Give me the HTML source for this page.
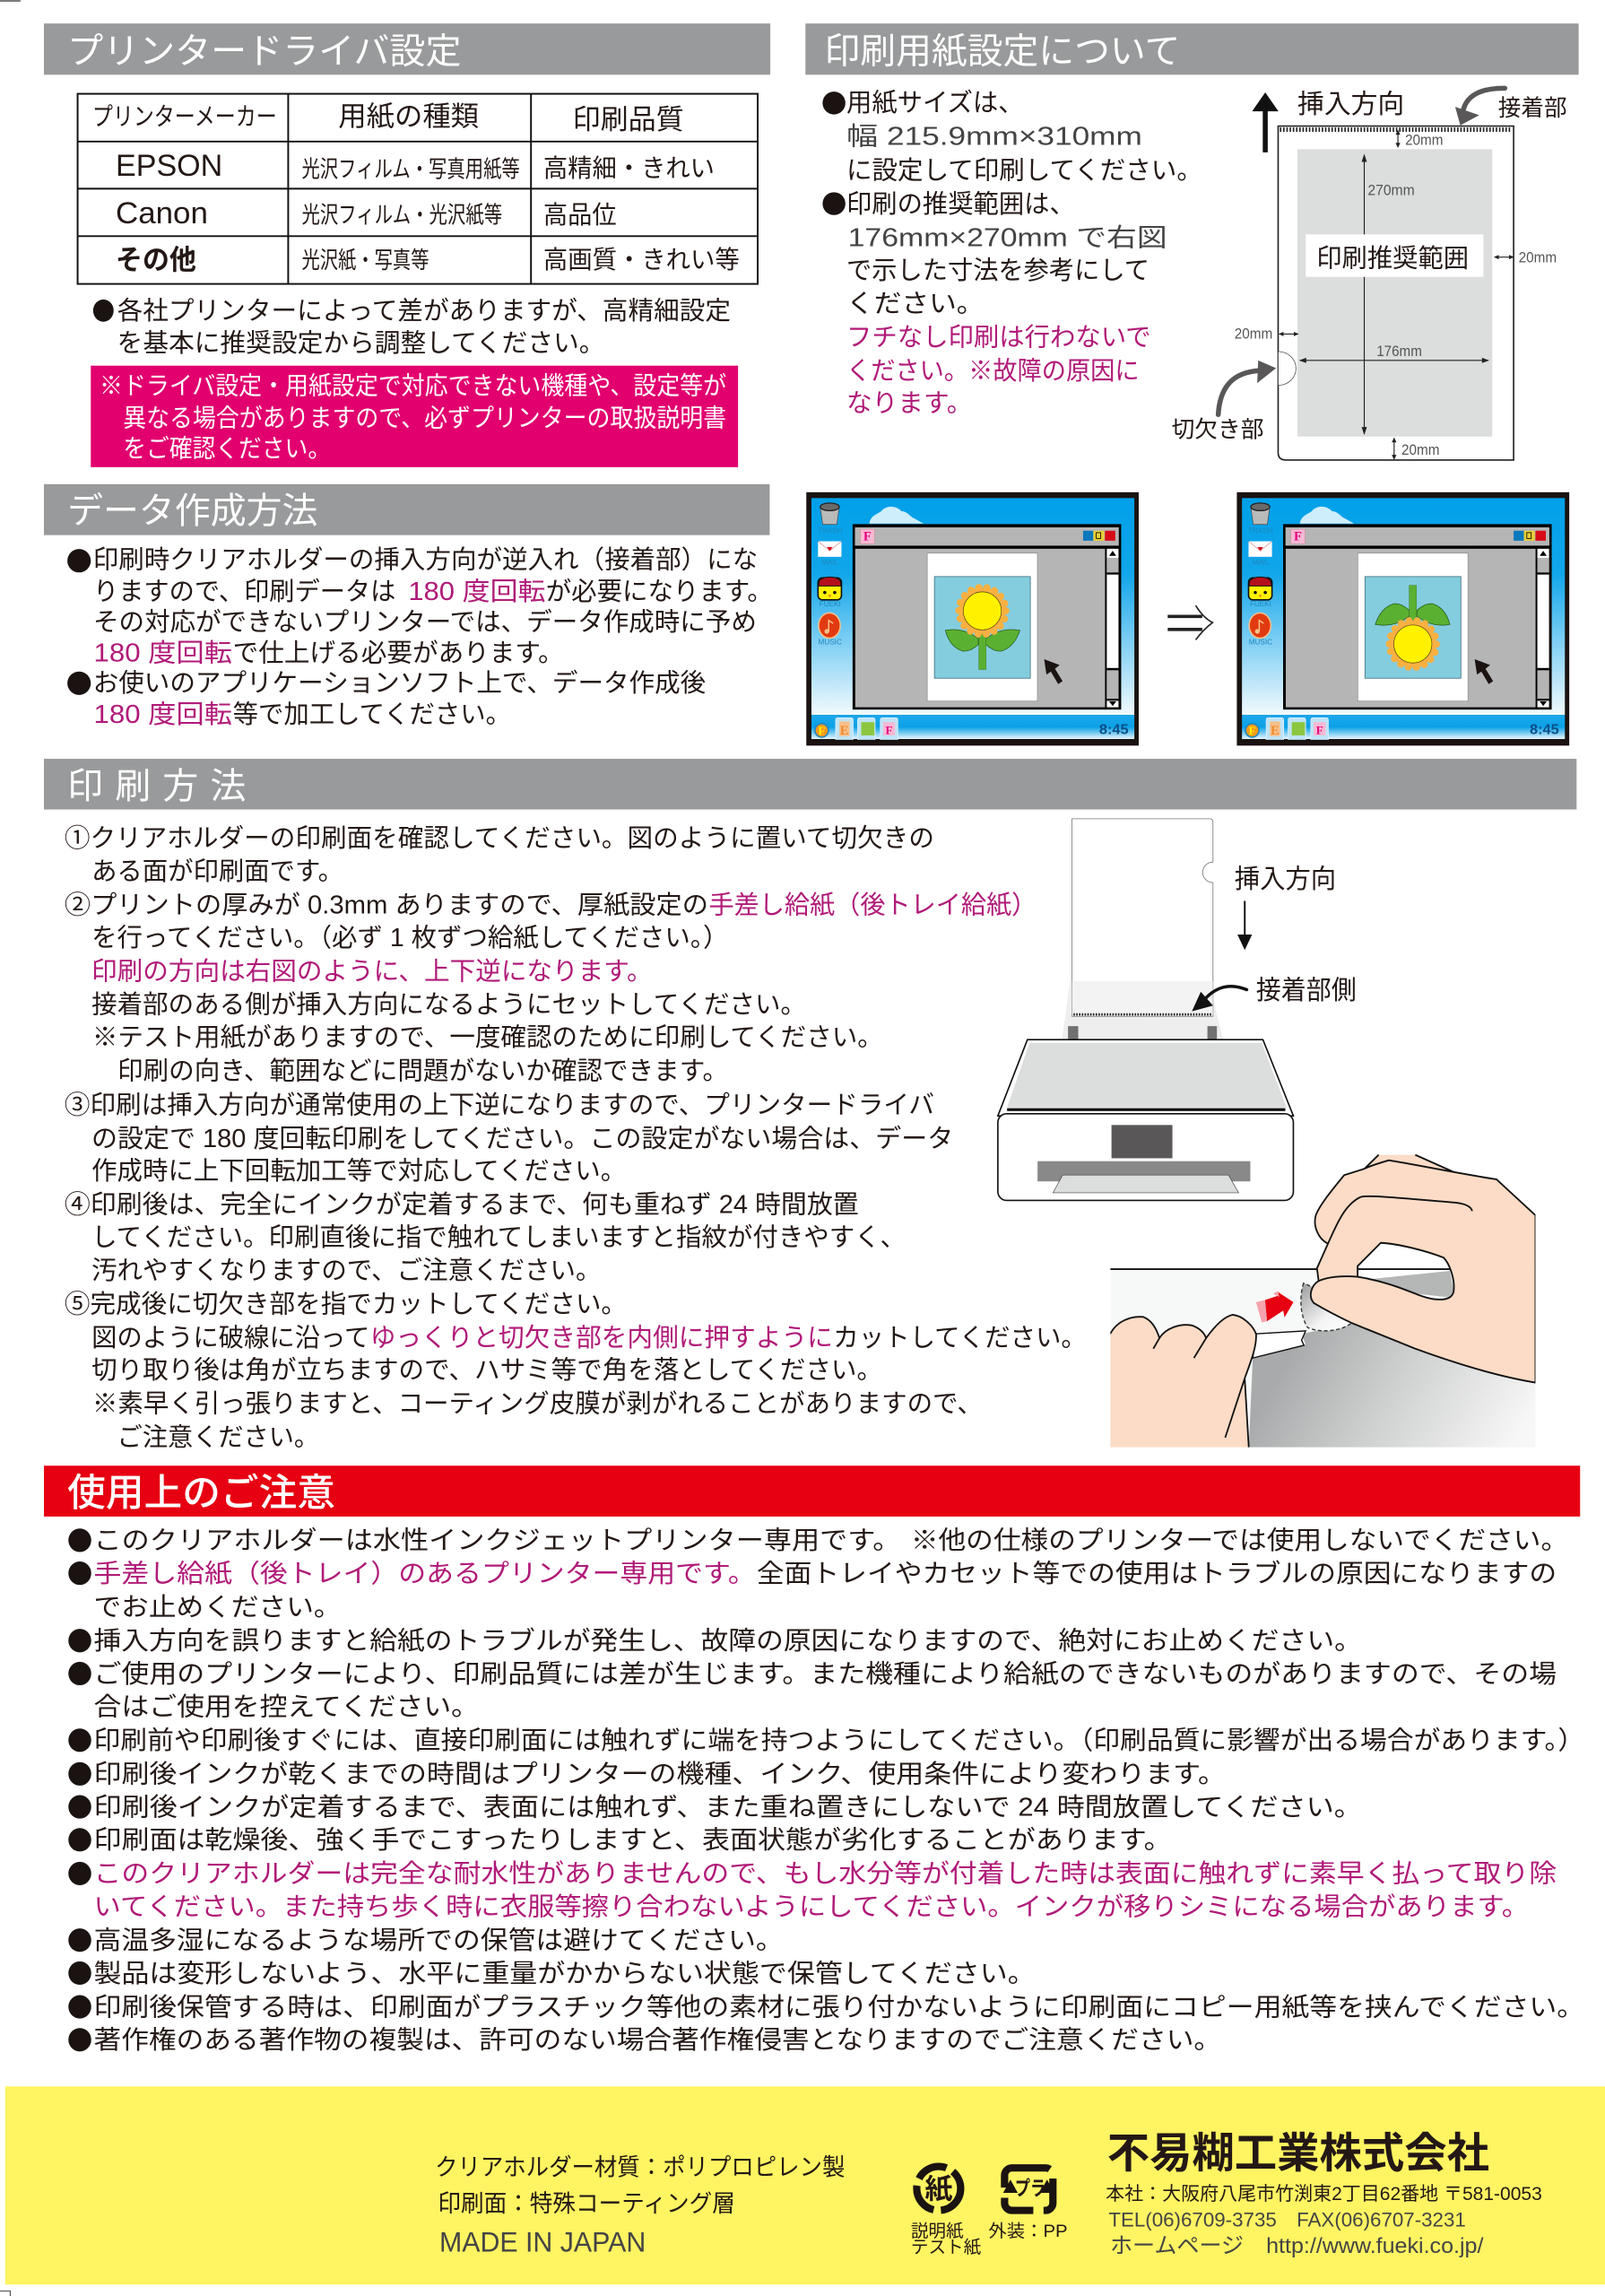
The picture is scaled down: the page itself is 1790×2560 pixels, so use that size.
<!DOCTYPE html>
<html lang="ja"><head><meta charset="utf-8"><title>プリンタードライバ設定</title>
<style>
html,body{margin:0;padding:0;background:#fff}
svg{display:block}
text{font-family:"Liberation Sans","Noto Sans CJK JP",sans-serif;fill:#231815;font-weight:400}
.b{font-size:17.5px}
.p{fill:#b01a78}
.w{fill:#fff}
.h{font-size:24.5px;fill:#fff}
.m{font-size:10px;fill:#555}
.t{font-size:5px;fill:#1f86bd;text-anchor:middle}
.l{fill:#444}
</style></head><body>
<svg xmlns="http://www.w3.org/2000/svg" width="1790" height="2560" viewBox="0 0 1096 1567.4">
<defs>
<linearGradient id="sky" x1="0" y1="0" x2="0" y2="1"><stop offset="0" stop-color="#00a0e9"/><stop offset=".35" stop-color="#12a6ea"/><stop offset="1" stop-color="#f2fafe"/></linearGradient>
<linearGradient id="bar" x1="0" y1="0" x2="0" y2="1"><stop offset="0" stop-color="#1ea9ec"/><stop offset=".5" stop-color="#0aa0e6"/><stop offset="1" stop-color="#e8f6fd"/></linearGradient>
<linearGradient id="grayp" gradientUnits="userSpaceOnUse" x1="800" y1="1300" x2="1300" y2="1600"><stop offset="0" stop-color="#a9aaab"/><stop offset=".45" stop-color="#cfd0d0"/><stop offset="1" stop-color="#f7f7f7"/></linearGradient>
<linearGradient id="tab" x1="0" y1="0" x2="1" y2="1"><stop offset="0" stop-color="#9a9b9c"/><stop offset=".6" stop-color="#f4f4f4"/><stop offset="1" stop-color="#fff"/></linearGradient>
<clipPath id="hc"><rect x="349" y="840" width="1047" height="693"/></clipPath>
<g id="flower">
<path d="M94.9 94.3Q107 92 117.5 100L117.5 104Q112 109 107 108.5Q98 106 94.9 94.3Z" fill="#5ab031" stroke="#1f4a12" stroke-width=".4"/>
<path d="M145.9 94.3Q133 92 122.7 100L122.7 104Q128 109 133 108.5Q142 106 145.9 94.3Z" fill="#5ab031" stroke="#1f4a12" stroke-width=".4"/>
<rect x="117.8" y="97" width="4.9" height="24" fill="#5ab031" stroke="#3a7a20" stroke-width=".3"/>
<circle cx="120.2" cy="81" r="16" fill="#f8b041" stroke="#f8b041" stroke-width="5" stroke-linecap="round" stroke-dasharray="0 5.6"/>
<circle cx="120.2" cy="81" r="13" fill="#fff100" stroke="#4a3a10" stroke-width=".4"/>
</g>
<g id="scr">
<rect x="0" y="0" width="227" height="173" fill="#1a1311"/>
<rect x="3.5" y="4" width="220.5" height="148" fill="url(#sky)"/>
<path d="M43 21.4C44 15 50 15 52 12C56 8.5 62 9.5 65 13C69 13 71 17 74 18L80 21.4Z" fill="#cfeefb"/>
<rect x="3.5" y="152" width="220.5" height="16.5" fill="url(#bar)"/>
<rect x="31.6" y="21.8" width="183.4" height="126.6" fill="#000"/>
<rect x="33.2" y="24" width="180.2" height="12.5" fill="#b5b5b6"/>
<rect x="33.4" y="38.6" width="170.6" height="108.2" fill="#b5b5b6"/>
<rect x="37" y="25.3" width="9.4" height="9.8" fill="#f8b9d4" stroke="#d77" stroke-width=".2"/>
<rect x="189" y="26.3" width="7" height="6.8" fill="#0b78bd"/><rect x="196" y="26.3" width="7.4" height="6.8" fill="#e9cf36"/><rect x="203.9" y="26.3" width="7.1" height="6.8" fill="#d70c18"/>
<rect x="198" y="27.6" width="3" height="4" fill="none" stroke="#000" stroke-width=".5"/>
<rect x="205.2" y="38.6" width="8" height="108.2" fill="#fff"/>
<path d="M209.2 40 206.8 43.4h4.8Z" fill="#000"/>
<rect x="205.2" y="44.8" width="8" height="10" fill="#b5b5b6"/>
<rect x="205.2" y="54.8" width="8" height="1.4" fill="#000"/>
<rect x="205.2" y="120" width="8" height="1.6" fill="#000"/>
<rect x="205.2" y="121.6" width="8" height="19.4" fill="#b5b5b6"/>
<rect x="205.2" y="141" width="8" height="1.4" fill="#000"/>
<path d="M209.2 146 206.8 142.8h4.8Z" fill="#000"/>
<rect x="82.6" y="41.6" width="75.2" height="101" fill="#fff" stroke="#888" stroke-width=".4"/>
<rect x="87.5" y="57.6" width="65.5" height="69.4" fill="#84cddf" stroke="#3e6f7a" stroke-width=".5"/>
<path d="M162.4 114 173 118 169.8 120.5 175 129 172 131 167 122.5 164 124.5Z" fill="#1a1311"/>
<path d="M9.5 10H22.5L20.8 22H11.2Z" fill="#b9baba" stroke="#444" stroke-width=".4"/><ellipse cx="16" cy="10" rx="6.5" ry="2.6" fill="#6a6a6a" stroke="#222" stroke-width=".8"/>
<rect x="8" y="33.5" width="16" height="10.6" fill="#fff"/><path d="M8 33.5 16 40 24 33.5" fill="#fff" stroke="#b33" stroke-width=".3"/><path d="M14 37.5h4l-2 2.6Z" fill="#d70c18"/>
<rect x="8" y="58.5" width="16" height="15" rx="3" fill="#fff100" stroke="#111" stroke-width="1"/><path d="M8.5 62C8.5 56.5 23.5 56.5 23.5 62V64H8.5Z" fill="#b50f1c" stroke="#111" stroke-width=".6"/><circle cx="12.6" cy="68.5" r="1.1" fill="#111"/><circle cx="19.4" cy="68.5" r="1.1" fill="#111"/><path d="M14.8 70h2.4l-1.2 2Z" fill="#e98a20"/>
<ellipse cx="15.8" cy="91" rx="7.4" ry="8.6" fill="#e23a10" stroke="#f6c38c" stroke-width=".9"/>
<circle cx="14" cy="95" r="1.6" fill="#f6c38c"/><path d="M15.3 95V87.5l3 2" fill="none" stroke="#f6c38c" stroke-width=".9"/>
<circle cx="10.5" cy="162.6" r="4.6" fill="#f39a1e" stroke="#1f86bd" stroke-width="1"/>
<path d="M20 169V155.5Q20 154 21.5 154H30.5Q32 154 32 155.5V169" fill="#bfe4f6" stroke="#e9f6fc" stroke-width=".4"/>
<path d="M35 169V155.5Q35 154 36.5 154H45.5Q47 154 47 155.5V169" fill="#bfe4f6" stroke="#e9f6fc" stroke-width=".4"/>
<rect x="37.5" y="157" width="9" height="9" fill="#8cc63f"/>
<path d="M50.5 169V155.5Q50.5 154 52 154H61Q62.5 154 62.5 155.5V169" fill="#bfe4f6" stroke="#e9f6fc" stroke-width=".4"/>
<rect x="52.4" y="157" width="8.2" height="9" fill="#f8b9d4"/>
<rect x="22.6" y="156.5" width="7" height="10" fill="#f6c08a"/>
</g>
</defs>
<rect width="1096" height="1567.4" fill="#fff"/>
<rect x="0" y="0" width="14" height="1.2" fill="#777"/>
<path d="M0 1564H7V1567.4" fill="none" stroke="#555" stroke-width=".7"/>

<!-- Section 1 -->
<rect x="30" y="16" width="496" height="35" fill="#999a9b"/>
<text class="h" x="46" y="43" textLength="269" lengthAdjust="spacingAndGlyphs">プリンタードライバ設定</text>
<rect x="53" y="64" width="464.4" height="129.8" fill="#fff" stroke="#111" stroke-width="1.2"/>
<path d="M196.8 64V193.8M362.6 64V193.8M53 96.6H517.4M53 128.8H517.4M53 161.2H517.4" stroke="#111" stroke-width="1.2" fill="none"/>
<text x="63" y="85.5" font-size="17" textLength="126" lengthAdjust="spacingAndGlyphs">プリンターメーカー</text>
<text x="231" y="86" font-size="19" textLength="96" lengthAdjust="spacingAndGlyphs">用紙の種類</text>
<text x="391" y="88" font-size="19" textLength="76" lengthAdjust="spacingAndGlyphs">印刷品質</text>
<text x="79" y="120" font-size="21" textLength="73" lengthAdjust="spacingAndGlyphs">EPSON</text>
<text x="79" y="152.5" font-size="21" textLength="63" lengthAdjust="spacingAndGlyphs">Canon</text>
<text x="79" y="184" font-size="19" style="font-weight:700" textLength="55" lengthAdjust="spacingAndGlyphs">その他</text>
<text x="206" y="121" font-size="16" textLength="149" lengthAdjust="spacingAndGlyphs">光沢フィルム・写真用紙等</text>
<text x="206" y="152" font-size="16" textLength="137" lengthAdjust="spacingAndGlyphs">光沢フィルム・光沢紙等</text>
<text x="206" y="183" font-size="16" textLength="87" lengthAdjust="spacingAndGlyphs">光沢紙・写真等</text>
<text x="371" y="120.5" font-size="17" textLength="117" lengthAdjust="spacingAndGlyphs">高精細・きれい</text>
<text x="371" y="152.5" font-size="17" textLength="50" lengthAdjust="spacingAndGlyphs">高品位</text>
<text x="371" y="183" font-size="17" textLength="134" lengthAdjust="spacingAndGlyphs">高画質・きれい等</text>
<ellipse cx="70.6" cy="212" rx="7" ry="7.6" fill="#1a1311"/>
<text class="b" x="80" y="218" textLength="419" lengthAdjust="spacingAndGlyphs">各社プリンターによって差がありますが、高精細設定</text>
<text class="b" x="80" y="240" textLength="333" lengthAdjust="spacingAndGlyphs">を基本に推奨設定から調整してください。</text>
<rect x="62" y="249.6" width="442" height="69.3" fill="#e2006f"/>
<text class="w" x="68" y="269" font-size="17" textLength="428" lengthAdjust="spacingAndGlyphs">※ドライバ設定・用紙設定で対応できない機種や、設定等が</text>
<text class="w" x="84" y="291" font-size="17" textLength="412" lengthAdjust="spacingAndGlyphs">異なる場合がありますので、必ずプリンターの取扱説明書</text>
<text class="w" x="84" y="312" font-size="17" textLength="142" lengthAdjust="spacingAndGlyphs">をご確認ください。</text>

<!-- Section 2 -->
<rect x="550" y="16" width="528" height="35" fill="#999a9b"/>
<text class="h" x="563" y="43" textLength="243" lengthAdjust="spacingAndGlyphs">印刷用紙設定について</text>
<ellipse cx="569.5" cy="70.3" rx="7.8" ry="7.8" fill="#1a1311"/>
<ellipse cx="569.5" cy="139" rx="7.8" ry="7.8" fill="#1a1311"/>
<text class="b" x="578" y="76" textLength="121" lengthAdjust="spacingAndGlyphs">用紙サイズは、</text>
<text class="b l" x="578" y="99" textLength="202" lengthAdjust="spacingAndGlyphs">幅 215.9mm×310mm</text>
<text class="b" x="578" y="122" textLength="243" lengthAdjust="spacingAndGlyphs">に設定して印刷してください。</text>
<text class="b" x="578" y="145" textLength="156" lengthAdjust="spacingAndGlyphs">印刷の推奨範囲は、</text>
<text class="b l" x="579" y="168" textLength="218" lengthAdjust="spacingAndGlyphs">176mm×270mm で右図</text>
<text class="b" x="578" y="190.5" textLength="207" lengthAdjust="spacingAndGlyphs">で示した寸法を参考にして</text>
<text class="b" x="578" y="213" textLength="94" lengthAdjust="spacingAndGlyphs">ください。</text>
<text class="b p" x="578" y="236" textLength="208" lengthAdjust="spacingAndGlyphs">フチなし印刷は行わないで</text>
<text class="b p" x="578" y="259" textLength="200" lengthAdjust="spacingAndGlyphs">ください。※故障の原因に</text>
<text class="b p" x="578" y="281" textLength="86" lengthAdjust="spacingAndGlyphs">なります。</text>

<path d="M872.8 86H1033.6V314H878Q872.8 314 872.8 309Z" fill="#fff" stroke="#222" stroke-width="1"/>
<path d="M874 88.5H1032" stroke="#222" stroke-width="3" stroke-dasharray="1 1.2" fill="none"/>
<rect x="886" y="101.8" width="133" height="196.2" fill="#dcdddd"/>
<path d="M931.6 106V296M888 246H1016" stroke="#222" stroke-width=".7" fill="none"/>
<path d="M931.6 105 929.8 110.5h3.6ZM931.6 297 929.8 291.5h3.6ZM887 246 892 244.2v3.6ZM1017 246 1012 244.2v3.6Z" fill="#222"/>
<rect x="891.6" y="160" width="121.4" height="29" fill="#fff"/>
<text x="899" y="182" font-size="17.5" textLength="104" lengthAdjust="spacingAndGlyphs">印刷推奨範囲</text>
<text class="m" x="934" y="133" textLength="32" lengthAdjust="spacingAndGlyphs">270mm</text>
<text class="m" x="940" y="243" textLength="31" lengthAdjust="spacingAndGlyphs">176mm</text>
<text class="m" x="959.5" y="99" textLength="26" lengthAdjust="spacingAndGlyphs">20mm</text>
<text class="m" x="1037" y="179" textLength="26" lengthAdjust="spacingAndGlyphs">20mm</text>
<text class="m" x="843" y="231" textLength="26" lengthAdjust="spacingAndGlyphs">20mm</text>
<text class="m" x="957" y="310.5" textLength="26" lengthAdjust="spacingAndGlyphs">20mm</text>
<path d="M954.6 90V100M952 300V313M1021 175.5H1033M874 228H886" stroke="#222" stroke-width=".7" fill="none"/>
<path d="M954.6 88.5 953 92h3.2ZM954.6 101 953 97.5h3.2ZM952 298.5 950.4 302h3.2ZM952 314 950.4 310.5h3.2ZM1020 175.5 1023.5 174v3ZM1034 175.5 1030.5 174v3ZM873 228 876.5 226.5v3ZM887 228 883.5 226.5v3Z" fill="#222"/>
<path d="M873 240A12 11.5 0 0 1 873 263" fill="#fff" stroke="#555" stroke-width=".5"/>
<path d="M864 104V73" stroke="#111" stroke-width="3.4"/><path d="M864 63 873 76H855Z" fill="#111"/>
<text x="886" y="77" font-size="18" textLength="73" lengthAdjust="spacingAndGlyphs">挿入方向</text>
<text x="1023" y="79" font-size="15.7" textLength="47" lengthAdjust="spacingAndGlyphs">接着部</text>
<text x="800" y="298.5" font-size="15.7" textLength="63" lengthAdjust="spacingAndGlyphs">切欠き部</text>
<path d="M1027.6 60.2C1010 60 1001 66 999 76" fill="none" stroke="#595757" stroke-width="3.4" stroke-linecap="round"/>
<path d="M997.2 85.5 993.7 72.9 1010.1 78.6Z" fill="#595757"/>
<path d="M831.9 283C833 264 842 254 860 253" fill="none" stroke="#595757" stroke-width="3.4" stroke-linecap="round"/>
<path d="M871.4 251.3 859.2 246 858.5 261.5Z" fill="#595757"/>

<!-- Section 3 data -->
<rect x="30" y="330.5" width="495.6" height="34.8" fill="#999a9b"/>
<text class="h" x="46" y="357" textLength="171" lengthAdjust="spacingAndGlyphs">データ作成方法</text>
<ellipse cx="54" cy="382.8" rx="8" ry="8" fill="#1a1311"/>
<ellipse cx="54" cy="466.4" rx="8" ry="8" fill="#1a1311"/>
<text class="b" x="63.5" y="388" textLength="454" lengthAdjust="spacingAndGlyphs">印刷時クリアホルダーの挿入方向が逆入れ（接着部）にな</text>
<text class="b" x="63.7" y="409.5" textLength="206.5" lengthAdjust="spacingAndGlyphs">りますので、印刷データは</text>
<text class="b p" x="278.8" y="409.5" textLength="93.8" lengthAdjust="spacingAndGlyphs">180 度回転</text>
<text class="b" x="372.7" y="409.5" textLength="155" lengthAdjust="spacingAndGlyphs">が必要になります。</text>
<text class="b" x="63.7" y="430.5" textLength="453" lengthAdjust="spacingAndGlyphs">その対応ができないプリンターでは、データ作成時に予め</text>
<text class="b p" x="64" y="451.5" textLength="94.6" lengthAdjust="spacingAndGlyphs">180 度回転</text>
<text class="b" x="159" y="451.5" textLength="226" lengthAdjust="spacingAndGlyphs">で仕上げる必要があります。</text>
<text class="b" x="63.5" y="472" textLength="418.5" lengthAdjust="spacingAndGlyphs">お使いのアプリケーションソフト上で、データ作成後</text>
<text class="b p" x="64" y="493.5" textLength="94.6" lengthAdjust="spacingAndGlyphs">180 度回転</text>
<text class="b" x="159" y="493.5" textLength="190" lengthAdjust="spacingAndGlyphs">等で加工してください。</text>

<!-- Screens -->
<g transform="translate(550.6 336)"><use href="#scr"/><use href="#flower"/>
<text class="t" x="16.2" y="28">TRASH</text><text class="t" x="16.2" y="49.5">MAIL</text><text class="t" x="16.2" y="78">FUEKI</text><text class="t" x="16.2" y="104">MUSIC</text>
<text x="41.7" y="33" font-size="9" text-anchor="middle" style="fill:#e4007f;font-weight:700;font-family:'Liberation Serif',serif">F</text>
<text x="10.5" y="165.5" font-size="8" text-anchor="middle" style="fill:#fff100;font-weight:700;font-family:'Liberation Serif',serif">F</text>
<text x="26" y="165.5" font-size="9" text-anchor="middle" style="fill:#f08a2c;font-weight:700;font-family:'Liberation Serif',serif">E</text>
<text x="56.5" y="165" font-size="8" text-anchor="middle" style="fill:#e4007f;font-weight:700;font-family:'Liberation Serif',serif">F</text>
<text x="200" y="165" font-size="9.5" textLength="20" lengthAdjust="spacingAndGlyphs" style="fill:#0b4f87;font-weight:700">8:45</text>
</g>
<g transform="translate(844.6 336)"><use href="#scr"/><use href="#flower" transform="rotate(180 120.2 92.3)"/>
<text class="t" x="16.2" y="28">TRASH</text><text class="t" x="16.2" y="49.5">MAIL</text><text class="t" x="16.2" y="78">FUEKI</text><text class="t" x="16.2" y="104">MUSIC</text>
<text x="41.7" y="33" font-size="9" text-anchor="middle" style="fill:#e4007f;font-weight:700;font-family:'Liberation Serif',serif">F</text>
<text x="10.5" y="165.5" font-size="8" text-anchor="middle" style="fill:#fff100;font-weight:700;font-family:'Liberation Serif',serif">F</text>
<text x="26" y="165.5" font-size="9" text-anchor="middle" style="fill:#f08a2c;font-weight:700;font-family:'Liberation Serif',serif">E</text>
<text x="56.5" y="165" font-size="8" text-anchor="middle" style="fill:#e4007f;font-weight:700;font-family:'Liberation Serif',serif">F</text>
<text x="200" y="165" font-size="9.5" textLength="20" lengthAdjust="spacingAndGlyphs" style="fill:#0b4f87;font-weight:700">8:45</text>
</g>
<path d="M797.4 420.8H821M797.4 429.7H821" stroke="#222" stroke-width="2.2" fill="none"/>
<path d="M816.5 413.4C820 419 824 423 828 425C824 428 820 432 816.5 436.8" stroke="#222" stroke-width="1" fill="none"/>

<!-- Section 3 printing -->
<rect x="30" y="518" width="1046.6" height="34.6" fill="#999a9b"/>
<text class="h" x="46" y="545" textLength="122" lengthAdjust="spacing">印刷方法</text>
<text class="b" x="44" y="578" textLength="594" lengthAdjust="spacingAndGlyphs">①クリアホルダーの印刷面を確認してください。図のように置いて切欠きの</text>
<text class="b" x="62.5" y="600.5" textLength="172" lengthAdjust="spacingAndGlyphs">ある面が印刷面です。</text>
<text class="b" x="44" y="623.5" textLength="439.7" lengthAdjust="spacingAndGlyphs">②プリントの厚みが 0.3mm ありますので、厚紙設定の</text>
<text class="b p" x="484" y="623.5" textLength="224" lengthAdjust="spacingAndGlyphs">手差し給紙（後トレイ給紙）</text>
<text class="b" x="62.5" y="646" textLength="435" lengthAdjust="spacingAndGlyphs">を行ってください。（必ず 1 枚ずつ給紙してください。）</text>
<text class="b p" x="62.5" y="669" textLength="383" lengthAdjust="spacingAndGlyphs">印刷の方向は右図のように、上下逆になります。</text>
<text class="b" x="62.5" y="691.5" textLength="488" lengthAdjust="spacingAndGlyphs">接着部のある側が挿入方向になるようにセットしてください。</text>
<text class="b" x="63" y="714" textLength="540" lengthAdjust="spacingAndGlyphs">※テスト用紙がありますので、一度確認のために印刷してください。</text>
<text class="b" x="80.2" y="737" textLength="417" lengthAdjust="spacingAndGlyphs">印刷の向き、範囲などに問題がないか確認できます。</text>
<text class="b" x="44" y="760" textLength="594" lengthAdjust="spacingAndGlyphs">③印刷は挿入方向が通常使用の上下逆になりますので、プリンタードライバ</text>
<text class="b" x="62.5" y="783" textLength="588.5" lengthAdjust="spacingAndGlyphs">の設定で 180 度回転印刷をしてください。この設定がない場合は、データ</text>
<text class="b" x="62.5" y="805" textLength="365" lengthAdjust="spacingAndGlyphs">作成時に上下回転加工等で対応してください。</text>
<text class="b" x="44" y="828" textLength="542.4" lengthAdjust="spacingAndGlyphs">④印刷後は、完全にインクが定着するまで、何も重ねず 24 時間放置</text>
<text class="b" x="62.5" y="850.5" textLength="556" lengthAdjust="spacingAndGlyphs">してください。印刷直後に指で触れてしまいますと指紋が付きやすく、</text>
<text class="b" x="62.5" y="873" textLength="348" lengthAdjust="spacingAndGlyphs">汚れやすくなりますので、ご注意ください。</text>
<text class="b" x="44" y="896" textLength="384" lengthAdjust="spacingAndGlyphs">⑤完成後に切欠き部を指でカットしてください。</text>
<text class="b" x="62.5" y="919" textLength="190" lengthAdjust="spacingAndGlyphs">図のように破線に沿って</text>
<text class="b p" x="252.7" y="919" textLength="316" lengthAdjust="spacingAndGlyphs">ゆっくりと切欠き部を内側に押すように</text>
<text class="b" x="569" y="919" textLength="173" lengthAdjust="spacingAndGlyphs">カットしてください。</text>
<text class="b" x="62.5" y="941" textLength="540" lengthAdjust="spacingAndGlyphs">切り取り後は角が立ちますので、ハサミ等で角を落としてください。</text>
<text class="b" x="63" y="964" textLength="608" lengthAdjust="spacingAndGlyphs">※素早く引っ張りますと、コーティング皮膜が剥がれることがありますので、</text>
<text class="b" x="80" y="987" textLength="138" lengthAdjust="spacingAndGlyphs">ご注意ください。</text>

<!-- Printer -->
<path d="M730.7 669.8H825L835.5 709.7H725.2Z" fill="#eeeeee"/>
<path d="M732 558.9H826Q828.3 558.9 828.3 561.2V588.5A7 7 0 0 0 828.3 602.5V693.8H732Z" fill="#fff" stroke="#777" stroke-width=".5"/>
<path d="M732 669.8H828.3V693H732Z" fill="#f0f0f0" opacity=".8"/>
<path d="M733 692.5H828" stroke="#222" stroke-width="1.6" stroke-dasharray="1 .9" fill="none"/>
<path d="M729.3 700.5H736.3V709.7H729.3ZM824.5 700.5H831V709.7H824.5Z" fill="#727171"/>
<path d="M701.6 709.7H862.4L883.2 761.8H681.4Z" fill="#fff" stroke="#111" stroke-width="1"/>
<path d="M703 712H861.6L878.5 756H687.7Z" fill="#dcdddd"/>
<rect x="687.7" y="756.5" width="190" height="2" fill="#111"/>
<rect x="681.4" y="760.3" width="201.8" height="59.2" rx="6" fill="#fff" stroke="#111" stroke-width="1"/>
<rect x="759" y="768" width="41.6" height="22.7" fill="#595757"/>
<rect x="708.5" y="792.7" width="145.3" height="13.8" fill="#898989"/>
<path d="M725.7 802.2H838.9L845.8 814.3H719Z" fill="#dcdddd" stroke="#444" stroke-width=".4"/>
<text x="843" y="606" font-size="18" textLength="69.4" lengthAdjust="spacingAndGlyphs">挿入方向</text>
<path d="M850 615V640" stroke="#111" stroke-width="1.2"/><path d="M850 648.5 845 638H855Z" fill="#111"/>
<text x="857.7" y="682" font-size="18" textLength="68.5" lengthAdjust="spacingAndGlyphs">接着部側</text>
<path d="M851.3 675.6C840 671 830 673 821 684" fill="none" stroke="#111" stroke-width="2.2" stroke-linecap="round"/>
<path d="M813.9 690.4 820 677 828.3 686.5Z" fill="#111"/>

<!-- Hands -->
<g transform="translate(661.4 545) scale(.2773 .289)" clip-path="url(#hc)">
<rect x="349" y="1112" width="1047" height="421" fill="#f7f8f8"/>
<path d="M349 1112H1396" stroke="#111" stroke-width="4" fill="none"/>
<path d="M700 1320 830 1290 820 1265 945 1240 1100 1300 1250 1350 1396 1380V1533H690Z" fill="url(#grayp)"/>
<path d="M708 1265 830 1258 820 1280 826 1292 700 1322Z" fill="#fff" stroke="#111" stroke-width="3"/>
<path d="M995 1135 1185 1115 1198 1180 1100 1170Z" fill="#b5b6b6"/>
<path d="M960 1114H1188V1116L995 1135Z" fill="#fff"/>
<path d="M730 1185 762 1175 760 1165 800 1190 778 1226 775 1210 735 1235Z" fill="#e60012"/>
<path d="M708 1190 730 1185 735 1235 722 1238Z" fill="#f5a3ad"/>
<path d="M750 1170 762 1164 765 1178Z" fill="#f5a3ad"/>
<path d="M825 1145C815 1175 815 1220 835 1250C860 1262 915 1262 945 1238L860 1160Z" fill="url(#tab)" stroke="#333" stroke-width="3" stroke-dasharray="9 6"/>
<path d="M975 875 1010 842H1100L1200 885 1300 900 1035 855Z" fill="#fcdcc6"/>
<path d="M975 875 1010 842M1100 842 1200 885" fill="none" stroke="#111" stroke-width="4"/>
<path fill-rule="evenodd" d="M1396 985 1300 900C1200 885 1100 865 1035 855C1010 862 985 870 975 875L925 890C895 925 865 960 855 985C848 1010 860 1040 885 1052L858 1110 862 1140C845 1150 835 1175 850 1192C890 1215 945 1240 945 1240L1100 1300C1200 1335 1300 1365 1396 1380ZM958 1105 1015 1050C1060 1052 1130 1070 1170 1085C1185 1100 1197 1135 1195 1160C1195 1190 1150 1190 1100 1170C1060 1155 1020 1140 958 1130Z" fill="#fcdcc6" stroke="#111" stroke-width="4" stroke-linejoin="round"/>
<path d="M885 1052C905 1010 925 960 965 942C985 935 1100 948 1200 955C1225 958 1238 965 1240 975M862 1140C890 1128 930 1128 958 1130" fill="none" stroke="#111" stroke-width="4"/>
<path d="M349 1533V1265C365 1235 400 1222 430 1225C450 1232 462 1250 470 1275C485 1252 520 1240 550 1245C570 1252 580 1262 585 1275C600 1255 625 1225 650 1220C675 1222 700 1245 708 1265C710 1295 695 1330 680 1370L690 1533Z" fill="#fcdcc6"/>
<path d="M349 1265C365 1235 400 1222 430 1225C450 1232 462 1250 470 1275C485 1252 520 1240 550 1245C570 1252 580 1262 585 1275C600 1255 625 1225 650 1220C675 1222 700 1245 708 1265C710 1295 695 1330 680 1370L632 1510M680 1370 690 1533M470 1275 455 1300M585 1275 555 1322" fill="none" stroke="#111" stroke-width="4"/>
</g>

<!-- Section 4 -->
<rect x="30" y="1000.6" width="1049" height="34.7" fill="#e60012"/>
<text class="w" x="46" y="1028" font-size="26" textLength="183" lengthAdjust="spacingAndGlyphs" style="font-weight:500">使用上のご注意</text>
<g fill="#1a1311">
<ellipse cx="54.5" cy="1051.5" rx="7.8" ry="8"/><ellipse cx="54.5" cy="1074" rx="7.8" ry="8"/><ellipse cx="54.5" cy="1120" rx="7.8" ry="8"/><ellipse cx="54.5" cy="1142.5" rx="7.8" ry="8"/><ellipse cx="54.5" cy="1188" rx="7.8" ry="8"/><ellipse cx="54.5" cy="1211" rx="7.8" ry="8"/><ellipse cx="54.5" cy="1233.5" rx="7.8" ry="8"/><ellipse cx="54.5" cy="1256" rx="7.8" ry="8"/><ellipse cx="54.5" cy="1279" rx="7.8" ry="8"/><ellipse cx="54.5" cy="1324.5" rx="7.8" ry="8"/><ellipse cx="54.5" cy="1347" rx="7.8" ry="8"/><ellipse cx="54.5" cy="1370" rx="7.8" ry="8"/><ellipse cx="54.5" cy="1392.5" rx="7.8" ry="8"/>
</g>
<text class="b" x="64" y="1057.5" textLength="551" lengthAdjust="spacingAndGlyphs">このクリアホルダーは水性インクジェットプリンター専用です。</text>
<text class="b" x="622" y="1057.5" textLength="449" lengthAdjust="spacingAndGlyphs">※他の仕様のプリンターでは使用しないでください。</text>
<text class="b p" x="64" y="1080" textLength="452" lengthAdjust="spacingAndGlyphs">手差し給紙（後トレイ）のあるプリンター専用です。</text>
<text class="b" x="516.7" y="1080" textLength="546.3" lengthAdjust="spacingAndGlyphs">全面トレイやカセット等での使用はトラブルの原因になりますの</text>
<text class="b" x="64" y="1103" textLength="169" lengthAdjust="spacingAndGlyphs">でお止めください。</text>
<text class="b" x="64" y="1126" textLength="866" lengthAdjust="spacingAndGlyphs">挿入方向を誤りますと給紙のトラブルが発生し、故障の原因になりますので、絶対にお止めください。</text>
<text class="b" x="64" y="1148.5" textLength="999" lengthAdjust="spacingAndGlyphs">ご使用のプリンターにより、印刷品質には差が生じます。また機種により給紙のできないものがありますので、その場</text>
<text class="b" x="64" y="1171" textLength="263" lengthAdjust="spacingAndGlyphs">合はご使用を控えてください。</text>
<text class="b" x="64" y="1194" textLength="1018" lengthAdjust="spacingAndGlyphs">印刷前や印刷後すぐには、直接印刷面には触れずに端を持つようにしてください。（印刷品質に影響が出る場合があります。）</text>
<text class="b" x="64" y="1217" textLength="773" lengthAdjust="spacingAndGlyphs">印刷後インクが乾くまでの時間はプリンターの機種、インク、使用条件により変わります。</text>
<text class="b" x="64" y="1239.5" textLength="866" lengthAdjust="spacingAndGlyphs">印刷後インクが定着するまで、表面には触れず、また重ね置きにしないで 24 時間放置してください。</text>
<text class="b" x="64" y="1262" textLength="736" lengthAdjust="spacingAndGlyphs">印刷面は乾燥後、強く手でこすったりしますと、表面状態が劣化することがあります。</text>
<text class="b p" x="64" y="1285" textLength="999" lengthAdjust="spacingAndGlyphs">このクリアホルダーは完全な耐水性がありませんので、もし水分等が付着した時は表面に触れずに素早く払って取り除</text>
<text class="b p" x="64" y="1307.5" textLength="980" lengthAdjust="spacingAndGlyphs">いてください。また持ち歩く時に衣服等擦り合わないようにしてください。インクが移りシミになる場合があります。</text>
<text class="b" x="64" y="1330.5" textLength="471" lengthAdjust="spacingAndGlyphs">高温多湿になるような場所での保管は避けてください。</text>
<text class="b" x="64" y="1353" textLength="643" lengthAdjust="spacingAndGlyphs">製品は変形しないよう、水平に重量がかからない状態で保管してください。</text>
<text class="b" x="64" y="1376" textLength="1018" lengthAdjust="spacingAndGlyphs">印刷後保管する時は、印刷面がプラスチック等他の素材に張り付かないように印刷面にコピー用紙等を挟んでください。</text>
<text class="b" x="64" y="1398.5" textLength="770" lengthAdjust="spacingAndGlyphs">著作権のある著作物の複製は、許可のない場合著作権侵害となりますのでご注意ください。</text>

<!-- Footer -->
<rect x="3.5" y="1424.3" width="1092.5" height="135.3" fill="#fff462"/>
<text x="297" y="1485" font-size="16.5" textLength="280" lengthAdjust="spacingAndGlyphs">クリアホルダー材質：ポリプロピレン製</text>
<text x="299" y="1510" font-size="16.5" textLength="203" lengthAdjust="spacingAndGlyphs">印刷面：特殊コーティング層</text>
<text class="l" x="300" y="1537" font-size="19" textLength="141" lengthAdjust="spacingAndGlyphs">MADE IN JAPAN</text>
<text x="756" y="1480" font-size="29" textLength="261" lengthAdjust="spacingAndGlyphs" style="font-weight:700">不易糊工業株式会社</text>
<text x="755" y="1502" font-size="13" textLength="298" lengthAdjust="spacingAndGlyphs">本社：大阪府八尾市竹渕東2丁目62番地 〒581-0053</text>
<text class="l" x="757" y="1520" font-size="13.5" textLength="244" lengthAdjust="spacingAndGlyphs">TEL(06)6709-3735　FAX(06)6707-3231</text>
<text class="l" x="758" y="1538" font-size="15" textLength="255" lengthAdjust="spacingAndGlyphs">ホームページ　http://www.fueki.co.jp/</text>
<circle cx="641" cy="1494" r="15" fill="none" stroke="#1a1311" stroke-width="5" stroke-dasharray="22 5"/>
<text x="641" y="1501" font-size="19" text-anchor="middle" style="font-weight:700">紙</text>
<rect x="686" y="1480" width="33" height="29" rx="5" fill="none" stroke="#1a1311" stroke-width="5" stroke-dasharray="26 7"/>
<path d="M685 1497 690 1488 695 1497ZM715 1488 720 1497 710 1497Z" fill="#1a1311"/>
<text x="693" y="1499" font-size="14" textLength="21" lengthAdjust="spacingAndGlyphs" style="font-weight:700">プラ</text>
<text x="622" y="1527" font-size="12" textLength="36" lengthAdjust="spacingAndGlyphs">説明紙</text>
<text x="622" y="1538" font-size="12" textLength="48" lengthAdjust="spacingAndGlyphs">テスト紙</text>
<text x="675" y="1527" font-size="12" textLength="54" lengthAdjust="spacingAndGlyphs">外装：PP</text>
</svg>
</body></html>
